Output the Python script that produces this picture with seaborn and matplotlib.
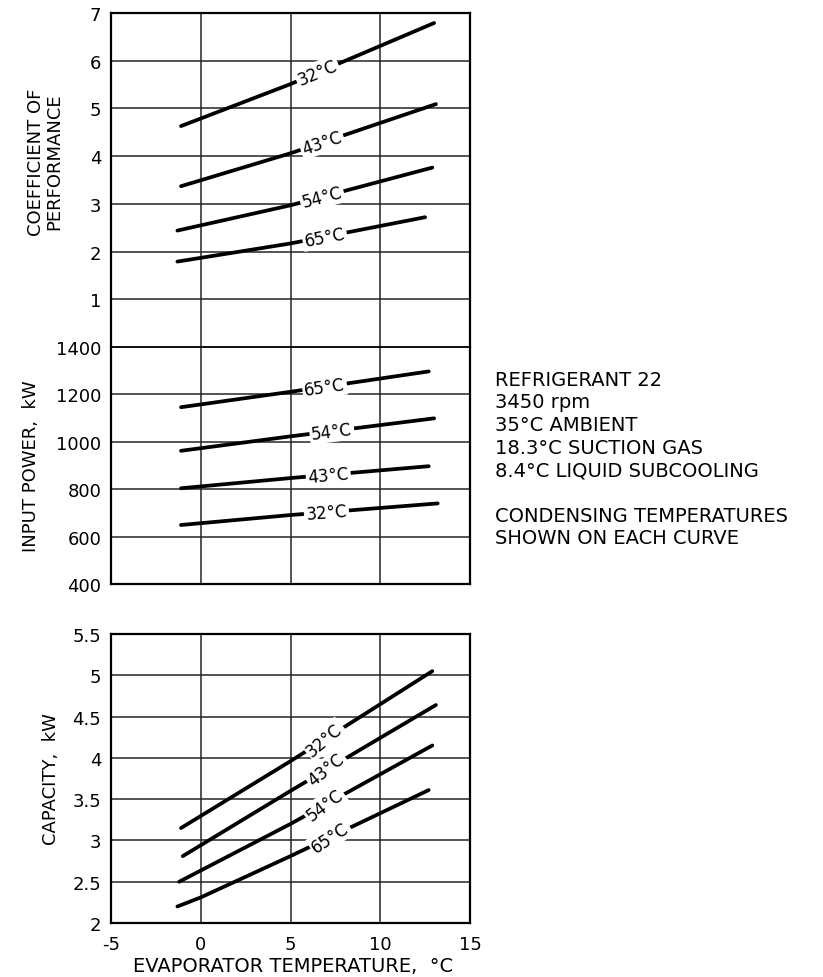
import numpy as np
import matplotlib
matplotlib.use("Agg")
import matplotlib.pyplot as plt
import seaborn as sns

# condensing temperatures shown on each curve
curve_labels = ["32°C", "43°C", "54°C", "65°C"]

# coefficient of performance vs evaporator temperature
cop_x = [[-1.1, 5, 13.0], [-1.1, 5, 13.1], [-1.3, 5, 12.9], [-1.3, 5, 12.5]]
cop_y = [[4.63, 5.51, 6.79], [3.37, 4.06, 5.09], [2.44, 2.97, 3.76], [1.79, 2.17, 2.72]]
cop_label_x = [6.5, 6.75, 6.75, 6.9]

# input power, kW
power_x = [[-1.1, 5, 13.2], [-1.1, 5, 12.7], [-1.1, 5, 13.0], [-1.1, 5, 12.7]]
power_y = [[649, 691, 740], [804, 847, 897], [962, 1023, 1099], [1146, 1211, 1297]]
power_label_x = [7.0, 7.1, 7.3, 6.9]

# capacity, kW
cap_x = [[-1.1, 5, 12.9], [-1.0, 5, 13.1], [-1.2, 5, 12.9], [-1.3, 0, 5, 12.7]]
cap_y = [[3.15, 3.96, 5.05], [2.81, 3.60, 4.64], [2.50, 3.20, 4.15], [2.20, 2.31, 2.81, 3.61]]
cap_label_x = [6.9, 7.0, 6.9, 7.2]

note_lines = ["REFRIGERANT 22", "3450 rpm", "35°C AMBIENT", "18.3°C SUCTION GAS",
              "8.4°C LIQUID SUBCOOLING", "", "CONDENSING TEMPERATURES",
              "SHOWN ON EACH CURVE"]

sns.set_theme(style="white")
plt.rcParams['font.family'] = ['DejaVu Sans']
plt.rcParams['text.color'] = 'black'
plt.rcParams['axes.labelcolor'] = 'black'
plt.rcParams['xtick.color'] = 'black'
plt.rcParams['ytick.color'] = 'black'
plt.rcParams['axes.unicode_minus'] = False

W, H = 823, 978
fig = plt.figure(figsize=(W / 100, H / 100), dpi=100)


def box(top, bottom):
    left, right = 111, 470
    return [left / W, 1 - bottom / H, (right - left) / W, (bottom - top) / H]


ax_cop = fig.add_axes(box(14, 348))
ax_pow = fig.add_axes(box(348, 585))
ax_cap = fig.add_axes(box(635, 924))


def draw(ax, xs, ys, lab_x, extra_rot=0):
    for lab, x, y, lx in zip(curve_labels, xs, ys, lab_x):
        sns.lineplot(x=x, y=y, ax=ax, color='black', lw=2.7, estimator=None, sort=False)
        ly = np.interp(lx, x, y)
        dy = np.interp(lx + 0.5, x, y) - np.interp(lx - 0.5, x, y)
        ang = np.degrees(np.arctan2(dy, 1.0))
        t = ax.text(lx, ly, lab, fontsize=12, ha='center', va='center',
                    rotation=ang, transform_rotates_text=True, rotation_mode='anchor',
                    bbox=dict(facecolor='white', edgecolor='none', pad=1.5), zorder=5)
        if extra_rot:
            t.set_transform_rotates_text(False)
            p0 = ax.transData.transform((lx - 0.5, np.interp(lx - 0.5, x, y)))
            p1 = ax.transData.transform((lx + 0.5, np.interp(lx + 0.5, x, y)))
            t.set_rotation(np.degrees(np.arctan2(p1[1] - p0[1], p1[0] - p0[0])) + extra_rot)


draw(ax_cop, cop_x, cop_y, cop_label_x)
draw(ax_pow, power_x, power_y, power_label_x)

for ax in (ax_cop, ax_pow, ax_cap):
    ax.set_xlim(-5, 15)
    ax.set_xticks([-5, 0, 5, 10, 15])
    ax.grid(True, color='#262626', lw=1.1)
    ax.set_axisbelow(True)
    ax.tick_params(length=0, pad=7, labelsize=13)
    for s in ax.spines.values():
        s.set_color('black')
        s.set_linewidth(1.6)

ax_cop.set_ylim(0, 7)
ax_cop.set_yticks(range(0, 8))
ax_cop.set_yticklabels([''] + [str(v) for v in range(1, 8)])
ax_cop.spines['bottom'].set_visible(False)
ax_cop.tick_params(labelbottom=False)

ax_pow.set_ylim(400, 1400)
ax_pow.set_yticks(range(400, 1401, 200))
ax_pow.spines['top'].set_linewidth(1.1)
ax_pow.tick_params(labelbottom=False)

ax_cap.set_ylim(2, 5.5)
ax_cap.set_yticks([2, 2.5, 3, 3.5, 4, 4.5, 5, 5.5])
ax_cap.set_yticklabels(['2', '2.5', '3', '3.5', '4', '4.5', '5', '5.5'])
ax_cap.tick_params(axis='x', pad=9)

# capacity labels sit a little steeper than the curves in the original
draw(ax_cap, cap_x, cap_y, cap_label_x, extra_rot=8)
ax_cap.set_xlim(-5, 15)
ax_cap.set_ylim(2, 5.5)

ax_cop.set_ylabel("COEFFICIENT OF\nPERFORMANCE", fontsize=13, linespacing=1.0)
ax_cop.yaxis.set_label_coords(-0.134, 0.557)
ax_pow.set_ylabel("INPUT POWER,  kW", fontsize=13)
ax_pow.yaxis.set_label_coords(-0.198, 0.5)
ax_cap.set_ylabel("CAPACITY,  kW", fontsize=13)
ax_cap.yaxis.set_label_coords(-0.142, 0.5)
ax_cap.set_xlabel("EVAPORATOR TEMPERATURE,  °C", fontsize=14)
ax_cap.xaxis.set_label_coords(0.507, -0.115)

for i, line in enumerate(note_lines):
    fig.text(495 / W, 1 - (380 + i * 22.7) / H, line, fontsize=14, va='center', ha='left')

fig.savefig("out.png", dpi=100, facecolor='white')
